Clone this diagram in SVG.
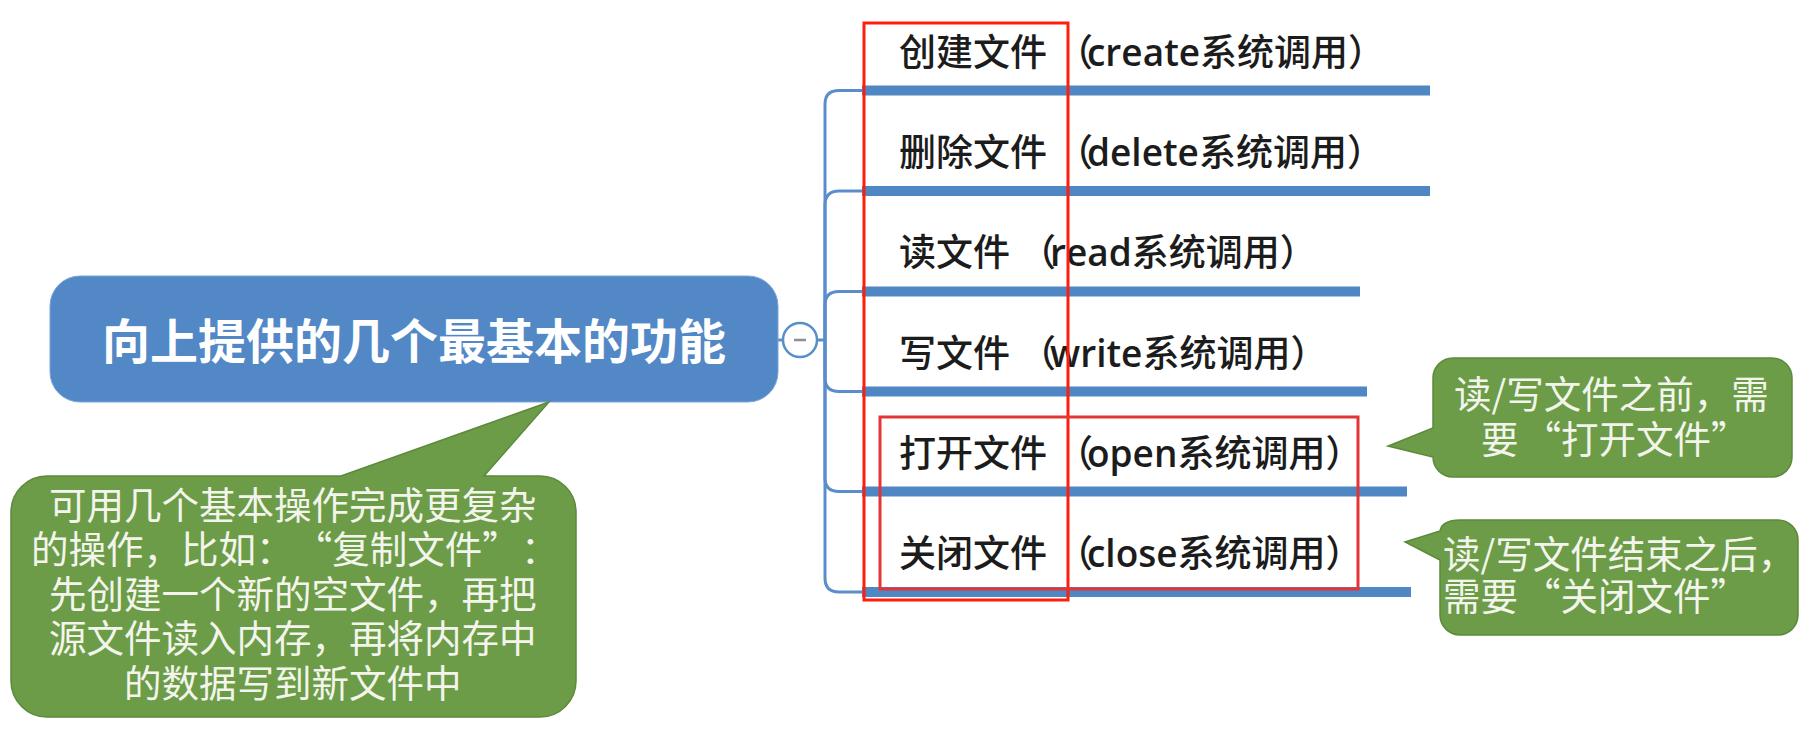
<svg xmlns="http://www.w3.org/2000/svg" width="1801" height="730" viewBox="0 0 1801 730">
<style>
.bg{fill:#ffffff}
.bar{fill:#4f86c4}
.link{fill:none;stroke:#5a8ecb;stroke-width:3}
.lbl{font-family:"Noto Sans CJK SC","Noto Sans",sans-serif;font-size:37px;font-weight:500;fill:#1c1c1c}
.lat{font-family:"Open Sans","Noto Sans",sans-serif;font-weight:600}
.main{font-family:"Noto Sans CJK SC","Noto Sans",sans-serif;font-size:48px;font-weight:bold;fill:#ffffff}
.callout{fill:#6c9c48;stroke:#5b8a3a;stroke-width:1.5}
.ct{font-family:"Noto Sans CJK SC","Noto Sans",sans-serif;font-size:37.5px;fill:#f3f5ec}
.redA{fill:none;stroke:#ff1e0e;stroke-width:3}
.redB{fill:none;stroke:#e53434;stroke-width:3}
</style>
<rect class="bg" x="0" y="0" width="1801" height="730"/>

<g id="connectors">
  <path class="link" d="M778,340 H783"/>
  <path class="link" d="M817,340 H825"/>
  <path class="link" d="M825,340 V104 Q825,90.5 839,90.5 H864"/>
  <path class="link" d="M825,340 V205 Q825,191 839,191 H864"/>
  <path class="link" d="M825,340 V305 Q825,291.5 839,291.5 H864"/>
  <path class="link" d="M825,340 V378 Q825,391.5 839,391.5 H864"/>
  <path class="link" d="M825,340 V478 Q825,491.5 839,491.5 H864"/>
  <path class="link" d="M825,340 V578 Q825,592 839,592 H864"/>
</g>

<g id="root">
  <rect x="50" y="276" width="728" height="126" rx="30" ry="30" fill="#5288c6" stroke="#7aa6d8" stroke-width="1"/>
  <text class="main" x="414" y="359" text-anchor="middle">向上提供的几个最基本的功能</text>
</g>

<g id="collapse">
  <circle cx="800" cy="340" r="17" fill="#ffffff" stroke="#5a8ecb" stroke-width="2.5"/>
  <line x1="794" y1="340" x2="806" y2="340" stroke="#8a8f99" stroke-width="2.5"/>
</g>

<g id="n1">
  <rect class="bar" x="862" y="85.5" width="568" height="10"/>
  <text class="lbl" x="899" y="66">创建文件<tspan dx="9">（</tspan><tspan class="lat" dx="-6">create</tspan>系统调用）</text>
</g>
<g id="n2">
  <rect class="bar" x="862" y="186" width="568" height="10"/>
  <text class="lbl" x="899" y="166">删除文件<tspan dx="9">（</tspan><tspan class="lat" dx="-6">delete</tspan>系统调用）</text>
</g>
<g id="n3">
  <rect class="bar" x="862" y="286.5" width="498" height="10"/>
  <text class="lbl" x="899" y="266">读文件<tspan dx="9">（</tspan><tspan class="lat" dx="-6">read</tspan>系统调用）</text>
</g>
<g id="n4">
  <rect class="bar" x="862" y="386.5" width="505" height="10"/>
  <text class="lbl" x="899" y="367">写文件<tspan dx="9">（</tspan><tspan class="lat" dx="-6">write</tspan>系统调用）</text>
</g>
<g id="n5">
  <rect class="bar" x="862" y="486.5" width="545" height="10"/>
  <text class="lbl" x="899" y="467">打开文件<tspan dx="9">（</tspan><tspan class="lat" dx="-6">open</tspan>系统调用）</text>
</g>
<g id="n6">
  <rect class="bar" x="862" y="587" width="549" height="10"/>
  <text class="lbl" x="899" y="567">关闭文件<tspan dx="9">（</tspan><tspan class="lat" dx="-6">close</tspan>系统调用）</text>
</g>

<g id="highlight-names">
  <rect class="redA" x="864" y="23" width="204" height="577"/>
</g>
<g id="highlight-open-close">
  <rect class="redB" x="880" y="417" width="478" height="172"/>
</g>

<g id="note-main">
  <path class="callout" d="M47,476 H341 L549,402 L484,476 H540 A36,36 0 0 1 576,512 V681 A36,36 0 0 1 540,717 H47 A36,36 0 0 1 11,681 V512 A36,36 0 0 1 47,476 Z"/>
  <text class="ct">
    <tspan x="49" y="519">可用几个基本操作完成更复杂</tspan>
    <tspan x="31" y="563">的操作，比如：<tspan dx="20">“</tspan>复制文件”<tspan dx="20">：</tspan></tspan>
    <tspan x="49" y="608">先创建一个新的空文件，再把</tspan>
    <tspan x="49" y="652">源文件读入内存，再将内存中</tspan>
    <tspan x="124" y="697">的数据写到新文件中</tspan>
  </text>
</g>

<g id="note-open">
  <path class="callout" d="M1453,358 H1772 A20,20 0 0 1 1792,378 V457 A20,20 0 0 1 1772,477 H1453 A20,20 0 0 1 1433,457 L1388,446 L1433,428 V378 A20,20 0 0 1 1453,358 Z"/>
  <text class="ct">
    <tspan x="1454" y="408">读/写文件之前，需</tspan>
    <tspan x="1481" y="453">要<tspan dx="5">“</tspan>打开文件”</tspan>
  </text>
</g>

<g id="note-close">
  <path class="callout" d="M1460,520 H1778 A20,20 0 0 1 1798,540 V615 A20,20 0 0 1 1778,635 H1460 A20,20 0 0 1 1440,615 V560 L1405,542 L1440,531 Q1442,520 1460,520 Z"/>
  <text class="ct">
    <tspan x="1443" y="568">读/写文件结束之后，</tspan>
    <tspan x="1443" y="610">需要<tspan dx="5">“</tspan>关闭文件”</tspan>
  </text>
</g>
</svg>
